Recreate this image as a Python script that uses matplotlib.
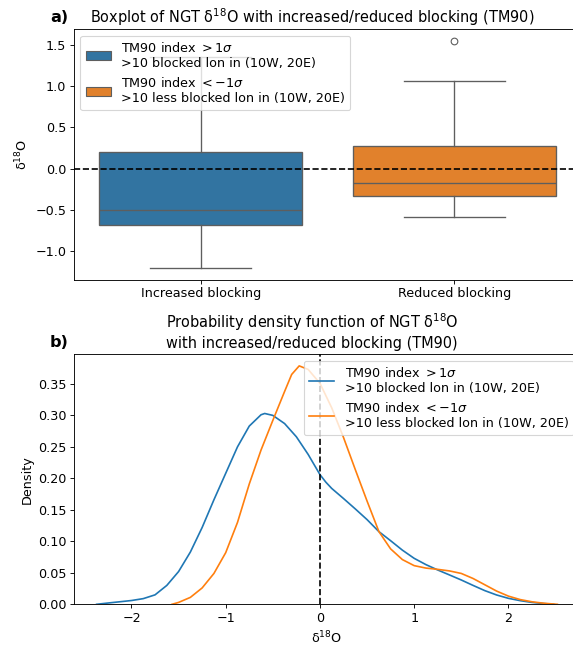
import matplotlib
matplotlib.use("Agg")
import matplotlib.pyplot as plt
from matplotlib.patches import Patch

# Boxplot statistics
groups = ["Increased blocking", "Reduced blocking"]
q1 = [-0.69, -0.33]
median = [-0.50, -0.18]
q3 = [0.20, 0.27]
whisker_lo = [-1.21, -0.59]
whisker_hi = [1.35, 1.06]
outliers = [[], [1.55]]

# Density curves
x_incr = [-2.37, -2.25, -2.0, -1.875, -1.75, -1.625, -1.5, -1.375, -1.25, -1.125,
          -1.0, -0.875, -0.75, -0.625, -0.586, -0.5, -0.375, -0.25, -0.125, 0.0,
          0.0625, 0.125, 0.25, 0.375, 0.5, 0.626, 0.75, 0.875, 1.0, 1.125, 1.25,
          1.375, 1.5, 1.625, 1.75, 1.875, 2.0, 2.125, 2.25, 2.375, 2.48]
d_incr = [0.0, 0.002, 0.006, 0.009, 0.015, 0.030, 0.052, 0.083, 0.122, 0.166,
          0.208, 0.250, 0.283, 0.301, 0.303, 0.300, 0.287, 0.266, 0.238, 0.206,
          0.194, 0.184, 0.168, 0.1515, 0.1345, 0.1154, 0.101, 0.086, 0.073, 0.063, 0.0545,
          0.0466, 0.0386, 0.030, 0.0217, 0.0148, 0.0095, 0.0058, 0.003, 0.0012, 0.0]

x_red = [-1.57, -1.5, -1.375, -1.25, -1.125, -1.0, -0.875, -0.75, -0.625, -0.5,
         -0.375, -0.3, -0.22, -0.125, 0.0, 0.125, 0.25, 0.375, 0.5, 0.626,
         0.75, 0.875, 1.0, 1.125, 1.25, 1.375, 1.5, 1.625, 1.75, 1.875,
         2.0, 2.125, 2.25, 2.375, 2.52]
d_red = [0.0, 0.003, 0.011, 0.026, 0.049, 0.082, 0.130, 0.191, 0.245, 0.292,
         0.338, 0.365, 0.3786, 0.373, 0.351, 0.312, 0.265, 0.214, 0.164, 0.1154,
         0.088, 0.071, 0.0614, 0.0575, 0.0555, 0.053, 0.049, 0.041, 0.031, 0.021,
         0.013, 0.0075, 0.004, 0.0017, 0.0]

label_incr = "TM90 index $>1\\sigma$\n>10 blocked lon in (10W, 20E)"
label_red = "TM90 index $<-1\\sigma$\n>10 less blocked lon in (10W, 20E)"

box_colors = ["#3274a1", "#e1812c"]
line_colors = ["#1f77b4", "#ff7f0e"]
edge = "#5e5e5e"

BASE = 11.5
TITLE = 13.1
plt.rcParams["font.size"] = BASE

W, H, DPI = 573, 645, 80
fig = plt.figure(figsize=(W / DPI, H / DPI), dpi=DPI)

def px_axes(left, top, right, bottom):
    return fig.add_axes([left / W, 1 - bottom / H, (right - left) / W, (bottom - top) / H])

# ---- panel a: boxplot ----
ax1 = px_axes(74, 29.3, 581, 279.7)
stats = []
for i in range(len(groups)):
    stats.append(dict(med=median[i], q1=q1[i], q3=q3[i],
                      whislo=whisker_lo[i], whishi=whisker_hi[i], fliers=outliers[i]))
bp = ax1.bxp(stats, positions=[0, 1], widths=0.8, patch_artist=True,
             boxprops=dict(edgecolor=edge, linewidth=1.2),
             medianprops=dict(color=edge, linewidth=1.2),
             whiskerprops=dict(color=edge, linewidth=1.2),
             capprops=dict(color=edge, linewidth=1.2),
             flierprops=dict(marker="o", markerfacecolor="none",
                             markeredgecolor=edge, markersize=6))
for patch, c in zip(bp["boxes"], box_colors):
    patch.set_facecolor(c)
ax1.axhline(0, color="black", linestyle="--", linewidth=1.5)
ax1.set_xlim(-0.5, 1.5)
ax1.set_ylim(-1.35, 1.69)
ax1.set_xticks([0, 1])
ax1.set_xticklabels(groups)
ax1.set_ylabel("δ$^{18}$O")
ax1.set_title("Boxplot of NGT δ$^{18}$O with increased/reduced blocking (TM90)",
              fontsize=TITLE, x=0.47)
handles = [Patch(facecolor=box_colors[0], edgecolor=edge, label=label_incr),
           Patch(facecolor=box_colors[1], edgecolor=edge, label=label_red)]
ax1.legend(handles=handles, loc="upper left", fontsize=BASE)
fig.text(50 / W, 1 - 22 / H, "a)", fontsize=14.5, fontweight="bold")

# ---- panel b: density ----
ax2 = px_axes(74, 354.3, 580, 604.3)
ax2.plot(x_incr, d_incr, color=line_colors[0], linewidth=1.5, label=label_incr)
ax2.plot(x_red, d_red, color=line_colors[1], linewidth=1.5, label=label_red)
ax2.axvline(0, color="black", linestyle="--", linewidth=1.5)
ax2.set_xlim(-2.61, 2.76)
ax2.set_ylim(0, 0.397)
ax2.set_xlabel("δ$^{18}$O")
ax2.set_ylabel("Density")
ax2.set_title("Probability density function of NGT δ$^{18}$O\nwith increased/reduced blocking (TM90)",
              fontsize=TITLE, x=0.47)
ax2.legend(loc="upper right", fontsize=BASE)
fig.text(50 / W, 1 - 347 / H, "b)", fontsize=14.5, fontweight="bold")

fig.savefig("out.png", dpi=DPI)
